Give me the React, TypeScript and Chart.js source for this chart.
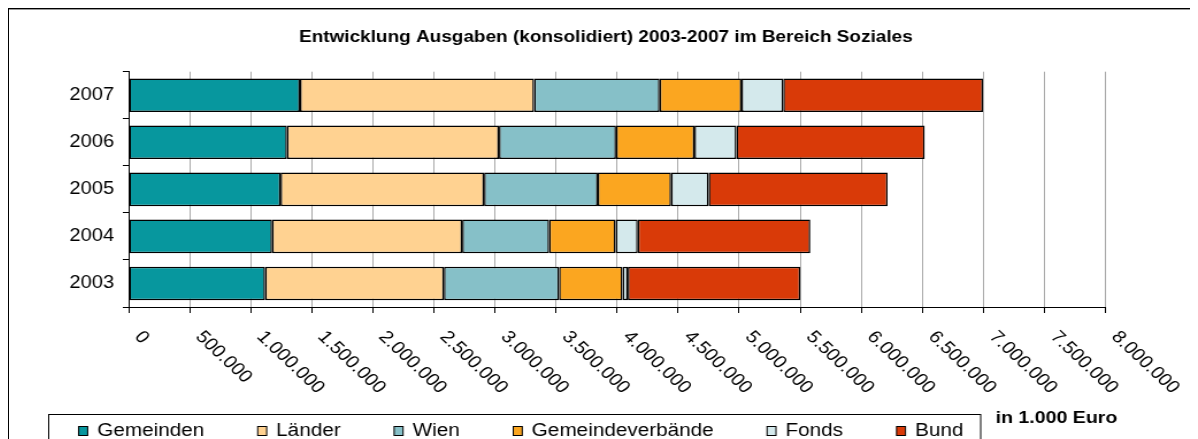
import React, { useEffect, useRef } from 'react';
import { Chart, registerables } from 'chart.js';

Chart.register(...registerables);

// ---------- data ----------
const years = ['2003', '2004', '2005', '2006', '2007'];
const gemeinden = [1118000, 1175000, 1244000, 1297000, 1403000];
const laender = [1464000, 1557000, 1667000, 1736000, 1918000];
const wien = [943000, 712000, 931000, 959000, 1028000];
const gemeindeverbaende = [520000, 544000, 601000, 642000, 670000];
const fonds = [43000, 182000, 307000, 344000, 342000];
const bund = [1413000, 1413000, 1466000, 1542000, 1636000];

const seriesLabels = ['Gemeinden', 'Länder', 'Wien', 'Gemeindeverbände', 'Fonds', 'Bund'];
const seriesValues = [gemeinden, laender, wien, gemeindeverbaende, fonds, bund];
const seriesColors = ['#07979E', '#FFD291', '#86C0C8', '#FBA620', '#D4E9EC', '#D93A08'];

const xMin = 0;
const xMax = 8000000;
const xStep = 500000;

const titleText = 'Entwicklung Ausgaben (konsolidiert) 2003-2007 im Bereich Soziales';
const unitText = 'in 1.000 Euro';

// ---------- layout ----------
const W = 1034; // backing width (stretched horizontally by CSS)
const H = 430;
const CSS_W = 1189;
const FONT = "'Liberation Sans', Arial, sans-serif";

const fmt = (v: number) => String(v).replace(/\B(?=(\d{3})+(?!\d))/g, '.');

export default function App() {
  const ref = useRef<HTMLCanvasElement>(null);

  useEffect(() => {
    const canvas = ref.current!;

    const overlay = {
      id: 'overlay',
      afterDraw(chart: any) {
        const ctx = chart.ctx as CanvasRenderingContext2D;
        const xs = chart.scales.x;
        const area = chart.chartArea;
        ctx.save();
        ctx.fillStyle = '#000';

        // title
        ctx.font = `bold 16.5px ${FONT}`;
        ctx.textAlign = 'center';
        ctx.textBaseline = 'middle';
        ctx.fillText(titleText, 519, 28.5);

        // rotated x tick labels
        ctx.font = `17.5px ${FONT}`;
        ctx.textAlign = 'left';
        ctx.textBaseline = 'middle';
        const ang = (47 * Math.PI) / 180;
        xs.ticks.forEach((t: any) => {
          const px = xs.getPixelForValue(t.value);
          ctx.save();
          ctx.translate(px + 8, area.bottom + 27);
          ctx.rotate(ang);
          ctx.fillText(fmt(t.value), 0, 0);
          ctx.restore();
        });

        // unit text
        ctx.font = `bold 17px ${FONT}`;
        ctx.textBaseline = 'alphabetic';
        ctx.fillText(unitText, 858, 414);

        // legend
        ctx.font = `18px ${FONT}`;
        ctx.lineWidth = 1;
        ctx.strokeStyle = '#000';
        ctx.strokeRect(34.5, 405.5, 810.5, 60);
        let x = 60.6;
        chart.data.datasets.forEach((ds: any) => {
          ctx.fillStyle = ds.backgroundColor;
          ctx.fillRect(x, 417.5, 7.8, 9);
          ctx.strokeRect(x, 417.5, 7.8, 9);
          ctx.fillStyle = '#000';
          ctx.fillText(ds.label, x + 16.1, 426.5);
          x += 16.1 + ctx.measureText(ds.label).width + 46.5;
        });
        ctx.restore();
      },
    };

    const chart = new Chart(canvas, {
      type: 'bar',
      data: {
        labels: years,
        datasets: seriesLabels.map((label, i) => ({
          label,
          data: seriesValues[i],
          backgroundColor: seriesColors[i],
          borderColor: '#000',
          borderWidth: 1.5,
          borderSkipped: false,
          categoryPercentage: 0.714,
          barPercentage: 1,
        })),
      },
      options: {
        indexAxis: 'y',
        responsive: false,
        animation: false,
        devicePixelRatio: 1,
        layout: { padding: { left: 0, right: 80.5, top: 62.7, bottom: 0 } },
        plugins: {
          legend: { display: false },
          tooltip: { enabled: false },
          title: { display: false },
        },
        scales: {
          x: {
            stacked: true,
            min: xMin,
            max: xMax,
            ticks: { stepSize: xStep, display: false, maxTicksLimit: 30 },
            grid: { color: '#aaaaaa', lineWidth: 1, tickColor: '#000', tickLength: 6, drawTicks: true },
            border: { color: '#000', width: 1 },
            afterFit(s: any) {
              s.height = 132;
            },
          },
          y: {
            stacked: true,
            reverse: true,
            ticks: { color: '#000', font: { family: FONT, size: 17.5 }, padding: 7.5 },
            grid: { drawOnChartArea: false, offset: true, tickColor: '#000', tickLength: 5 },
            border: { color: '#000', width: 1 },
            afterFit(s: any) {
              s.width = 104;
            },
          },
        },
      },
      plugins: [overlay],
    } as any);

    return () => chart.destroy();
  }, []);

  return (
    <div
      style={{
        width: 1190,
        height: 431,
        boxSizing: 'border-box',
        borderTop: '1px solid #000',
        borderLeft: '1px solid #000',
        boxShadow: 'inset 0 1px 0 #999',
        overflow: 'hidden',
        background: '#fff',
      }}
    >
      <style>{`html,body{overflow:hidden}`}</style>
      <canvas
        ref={ref}
        width={W}
        height={H}
        style={{ width: `${CSS_W}px`, height: `${H}px`, display: 'block' }}
      />
    </div>
  );
}
